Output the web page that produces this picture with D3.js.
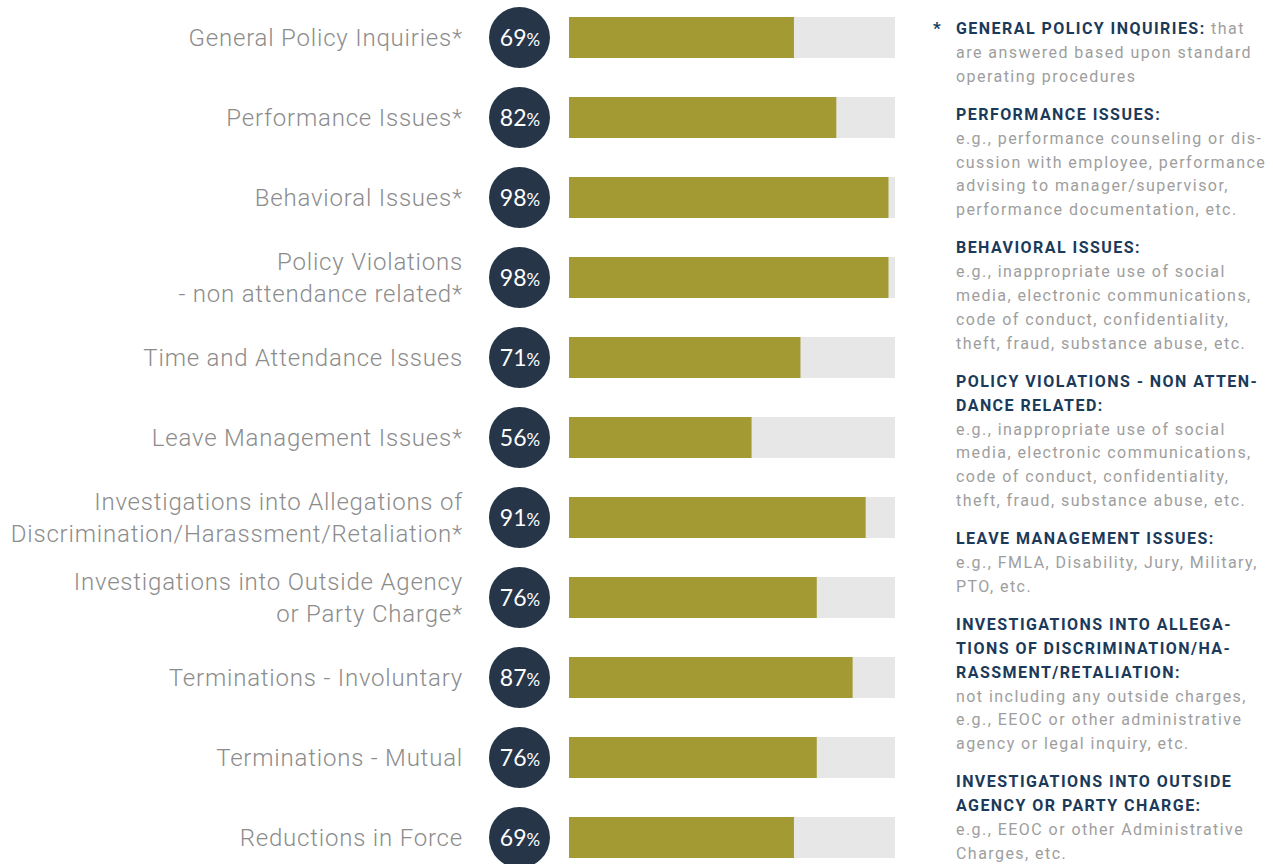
<!DOCTYPE html>
<html>
<head>
<meta charset="utf-8">
<script src="https://cdn.jsdelivr.net/npm/d3@7"></script>
<style>
  body { margin: 0; background: #fff; }
  svg { display: block; }
</style>
</head>
<body>
<div id="chart"></div>
<script>
// categories (label lines) and percentages
var categories = [
  ["General Policy Inquiries*"],
  ["Performance Issues*"],
  ["Behavioral Issues*"],
  ["Policy Violations", "- non attendance related*"],
  ["Time and Attendance Issues"],
  ["Leave Management Issues*"],
  ["Investigations into Allegations of", "Discrimination/Harassment/Retaliation*"],
  ["Investigations into Outside Agency", "or Party Charge*"],
  ["Terminations - Involuntary"],
  ["Terminations - Mutual"],
  ["Reductions in Force"]
];
var values = [69, 82, 98, 98, 71, 56, 91, 76, 87, 76, 69];

// footnote definitions on the right
var noteHeads = [
  ["GENERAL POLICY INQUIRIES:"],
  ["PERFORMANCE ISSUES:"],
  ["BEHAVIORAL ISSUES:"],
  ["POLICY VIOLATIONS - NON ATTEN-", "DANCE RELATED:"],
  ["LEAVE MANAGEMENT ISSUES:"],
  ["INVESTIGATIONS INTO ALLEGA-", "TIONS OF DISCRIMINATION/HA-", "RASSMENT/RETALIATION:"],
  ["INVESTIGATIONS INTO OUTSIDE", "AGENCY OR PARTY CHARGE:"]
];
var noteBodies = [
  ["are answered based upon standard", "operating procedures"],
  ["e.g., performance counseling or dis-", "cussion with employee, performance", "advising to manager/supervisor,", "performance documentation, etc."],
  ["e.g., inappropriate use of social", "media, electronic communications,", "code of conduct, confidentiality,", "theft, fraud, substance abuse, etc."],
  ["e.g., inappropriate use of social", "media, electronic communications,", "code of conduct, confidentiality,", "theft, fraud, substance abuse, etc."],
  ["e.g., FMLA, Disability, Jury, Military,", "PTO, etc."],
  ["not including any outside charges,", "e.g., EEOC or other administrative", "agency or legal inquiry, etc."],
  ["e.g., EEOC or other Administrative", "Charges, etc."]
];
var firstInline = " that";

var width = 1273, height = 864;

var svg = d3.select("#chart").append("svg")
  .attr("width", width)
  .attr("height", height);

var idx = d3.range(categories.length);

var y = d3.scaleBand()
  .domain(idx)
  .range([-2.5, 877.5]);

var x = d3.scaleLinear()
  .domain([0, 100])
  .range([569, 895]);

var barH = 41;
var cy = function(i) { return y(i) + y.bandwidth() / 2; };

var rows = svg.append("g").selectAll("g")
  .data(idx)
  .enter().append("g")
  .attr("transform", function(i) { return "translate(0," + cy(i) + ")"; });

// track
rows.append("rect")
  .attr("x", x(0))
  .attr("y", -barH / 2)
  .attr("width", x(100) - x(0))
  .attr("height", barH)
  .attr("fill", "#e7e7e7");

// value bar
rows.append("rect")
  .attr("x", x(0))
  .attr("y", -barH / 2)
  .attr("width", function(i) { return x(values[i]) - x(0); })
  .attr("height", barH)
  .attr("fill", "#a39a34");

// circle badge
rows.append("circle")
  .attr("cx", 519.5)
  .attr("cy", 0)
  .attr("r", 30.5)
  .attr("fill", "#263547");

var badge = rows.append("text")
  .attr("x", 520)
  .attr("y", 8)
  .attr("text-anchor", "middle")
  .attr("fill", "#fff")
  .style("font-family", "Lato, 'Open Sans', sans-serif");
badge.append("tspan")
  .style("font-size", "23px")
  .text(function(i) { return values[i]; });
badge.append("tspan")
  .style("font-size", "17px")
  .text("%");

// category labels
var labels = rows.append("text")
  .attr("text-anchor", "end")
  .attr("fill", "#8c8c8c")
  .style("font-family", "Roboto, sans-serif")
  .style("font-weight", 300)
  .style("font-size", "24px")
  .style("letter-spacing", "0.8px");

labels.selectAll("tspan")
  .data(function(i) {
    var lines = categories[i];
    return lines.map(function(t, k) { return {t: t, dy: (k - (lines.length - 1) / 2) * 32}; });
  })
  .enter().append("tspan")
  .attr("x", 463)
  .attr("y", function(d) { return d.dy + 8.5; })
  .text(function(d) { return d.t; });

// footnotes
var noteX = 956, lineH = 23.8, gap = 14.5;
var notes = svg.append("g")
  .style("font-family", "Roboto, sans-serif")
  .style("font-size", "16px")
  .style("letter-spacing", "1.45px");

notes.append("text")
  .attr("x", 933)
  .attr("y", 34)
  .attr("fill", "#1b3a5a")
  .style("font-weight", 700)
  .style("font-size", "17px")
  .text("*");

var yy = 34;
noteHeads.forEach(function(head, n) {
  head.forEach(function(line, k) {
    var t = notes.append("text")
      .attr("x", noteX)
      .attr("y", yy)
      .attr("fill", "#1b3a5a")
      .style("font-weight", 700)
      .text(line);
    if (n === 0 && k === 0) {
      t.append("tspan")
        .attr("fill", "#9e9e9e")
        .style("font-weight", 400)
        .text(firstInline);
    }
    yy += lineH;
  });
  noteBodies[n].forEach(function(line) {
    notes.append("text")
      .attr("x", noteX)
      .attr("y", yy)
      .attr("fill", "#9e9e9e")
      .text(line);
    yy += lineH;
  });
  yy += gap;
});
</script>
</body>
</html>
